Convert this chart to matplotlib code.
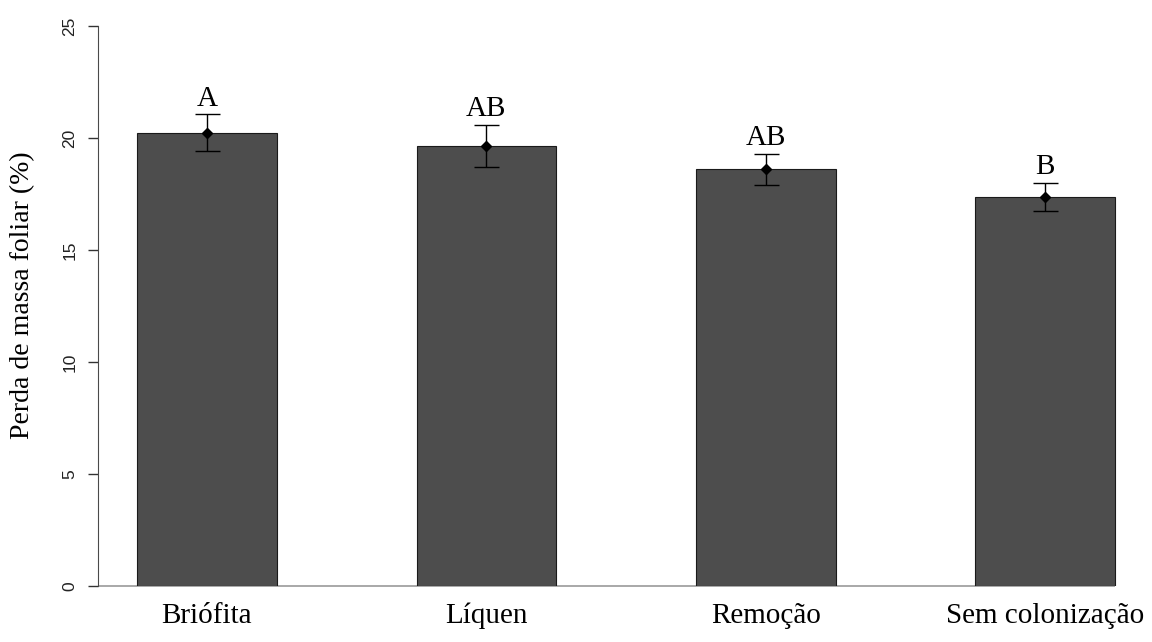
import matplotlib
matplotlib.use("Agg")
import matplotlib.pyplot as plt
import numpy as np

# mean leaf mass loss per treatment, with standard error and test letters
categories = ["Briófita", "Líquen", "Remoção", "Sem colonização"]
means = [20.24, 19.64, 18.60, 17.37]
errors = [0.81, 0.95, 0.68, 0.63]
letters = ["A", "AB", "AB", "B"]
y_ticks = [0, 5, 10, 15, 20, 25]

W, H = 1152, 642
fig = plt.figure(figsize=(W / 100, H / 100), dpi=100)

# plot region in pixels: y axis at x=98, zero at y=586, 25 at y=26
left, right = 98, 1152
bottom, top = 586, 26
ax = fig.add_axes([left / W, 1 - bottom / H, (right - left) / W, (bottom - top) / H])

# bars of width 1 with a gap of 1 between them
x = np.arange(len(categories)) * 2 + 1.5
ax.bar(x, means, width=1.0, color="#4d4d4d", edgecolor="#1a1a1a", linewidth=0.8, zorder=2)

ax.errorbar(x, means, yerr=errors, fmt="none", ecolor="black", elinewidth=1.0,
            capsize=9, capthick=1.0, zorder=3)
ax.plot(x, means, "D", color="black", markersize=5, zorder=4)

for xi, m, e, lab in zip(x, means, errors, letters):
    ax.annotate(lab, (xi, m + e), xytext=(0, 2), textcoords="offset points",
                ha="center", va="bottom", family="Liberation Serif", fontsize=21)

# baseline at zero
ax.hlines(0, 0.72, 8.0, color="#9a9a9a", linewidth=1.2, zorder=1, clip_on=False)

ax.set_xlim(0.72, 0.72 + (right - left) / 139.7)
ax.set_ylim(0, 25)

for s in ["top", "right", "bottom"]:
    ax.spines[s].set_visible(False)
ax.spines["left"].set_color("#4a4a4a")
ax.spines["left"].set_bounds(0, 25)

ax.set_yticks(y_ticks)
ax.set_yticklabels([str(t) for t in y_ticks], rotation=90, va="center",
                   family="Liberation Sans", fontsize=12.5, color="#222222")
ax.tick_params(axis="y", length=7, width=1.0, color="#333333", pad=8)

ax.set_xticks(x)
ax.set_xticklabels(categories, family="Liberation Serif", fontsize=21)
ax.tick_params(axis="x", length=0, pad=12)

ax.set_ylabel("Perda de massa foliar (%)", family="Liberation Serif", fontsize=20,
              va="center")
ax.yaxis.set_label_coords(-0.072, 0.52)
ax.patch.set_alpha(0)

fig.savefig("out.png", dpi=100)
